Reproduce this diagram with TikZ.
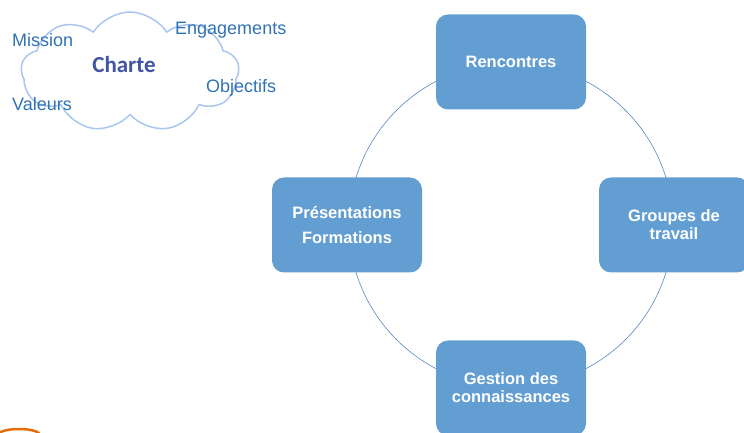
\documentclass[tikz,border=0pt]{standalone}
\usepackage{fontspec}
\setmainfont{Liberation Sans}
\newfontfamily\chartefont{Carlito}
\usetikzlibrary{shapes.symbols}
\definecolor{boxblue}{RGB}{99,158,210}
\definecolor{ringblue}{RGB}{84,135,195}
\definecolor{cloudblue}{RGB}{168,198,240}
\definecolor{wordblue}{RGB}{48,114,180}
\definecolor{chartblue}{RGB}{66,84,164}
\definecolor{markorange}{RGB}{228,108,10}
\tikzset{
	stagebox/.style={draw=none,fill=boxblue,rounded corners=12pt,minimum width=150pt,minimum height=95pt,
		text=white,align=center,font=\bfseries\fontsize{16.5}{18}\selectfont,inner sep=2pt},
	ring/.style={draw=ringblue,line width=0.6pt},
	word/.style={anchor=base west,text=wordblue,font=\fontsize{18}{20}\selectfont,inner sep=0pt}
}

\begin{document}
\begin{tikzpicture}[line cap=round,line join=round,x=1pt,y=1pt]
		\useasboundingbox (0,0) rectangle (744,433);
		\clip (0,0) rectangle (744,433);
		% cloud of the charter
		\node[cloud,cloud puffs=9,cloud puff arc=115,aspect=1.8,draw=cloudblue,line width=1.5pt,
			minimum width=218pt,minimum height=120pt,inner sep=0pt] (cloud) at (130,361) {};
		\node[anchor=base,text=chartblue,font=\chartefont\bfseries\fontsize{23}{25}\selectfont,inner sep=0pt] (charte) at (124,360) {Charte};
		\node[word] (mission) at (12,386) {Mission};
		\node[word] (engage) at (175,398) {Engagements};
		\node[word] (objectifs) at (206,340) {Objectifs};
		\node[word] (valeurs) at (12,322) {Valeurs};
		% cycle
		\coordinate (hub) at (511,208);
		\draw[ring] (hub) circle (162);
		\node[stagebox] (rencontres) at (511,371) {Rencontres};
		\node[stagebox] (groupes) at (674,208) {Groupes de\\travail};
		\node[stagebox] (gestion) at (511,45) {Gestion des\\connaissances};
		\node[stagebox] (presentations) at (347,208) {Présentations\\[7pt]Formations};
		% orange mark at the bottom
		\draw[markorange,line width=2.5pt] (19,-2) ellipse [x radius=21,y radius=6];
	\end{tikzpicture}
\end{document}
